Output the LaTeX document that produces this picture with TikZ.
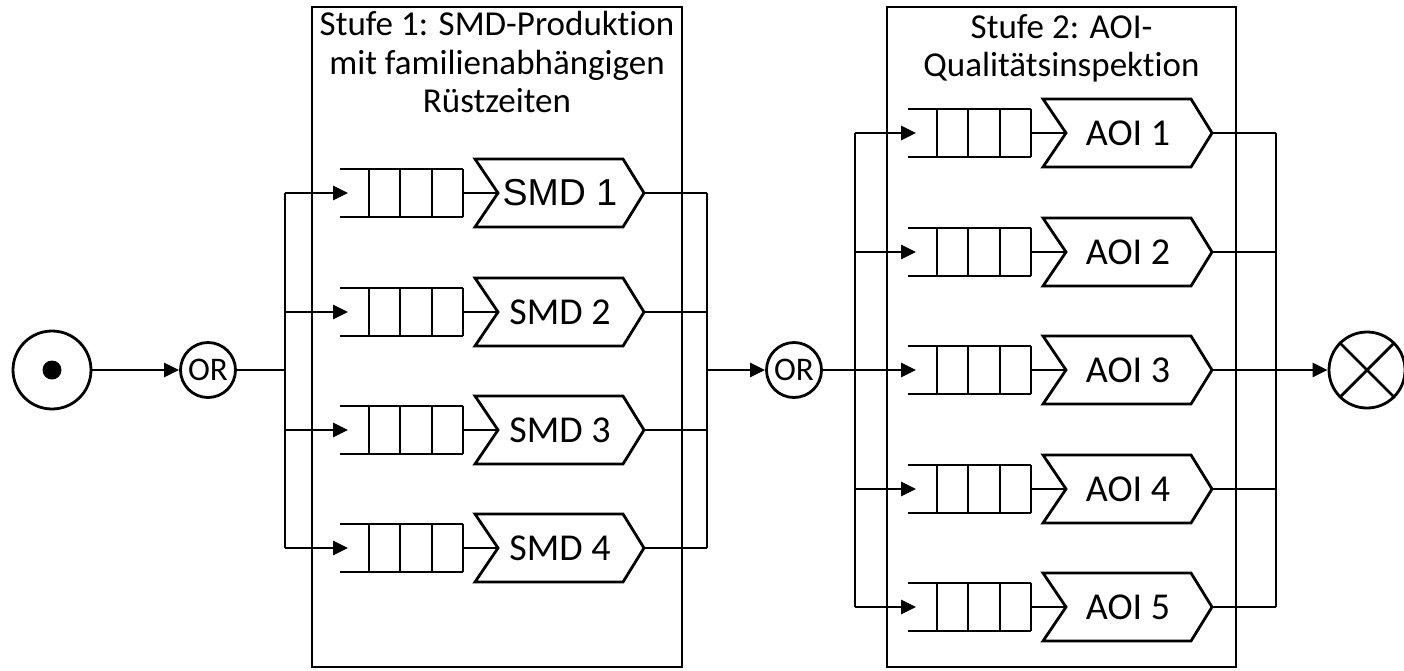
\documentclass[tikz,border=0pt]{standalone}
\usepackage{fontspec}
\setmainfont{Carlito}[Ligatures=NoCommon]
\newfontfamily\arialfont{Liberation Sans}
\usetikzlibrary{arrows.meta,calc}

\tikzset{
  line/.style={line width=2.8pt, line join=miter},
  arr/.style={line, -{Triangle[length=15pt,width=14pt]}},
  stagebox/.style={line, draw, fill=none, inner sep=0pt},
  title/.style={align=center, inner sep=0pt, anchor=north,
    font=\fontsize{35}{38.5}\selectfont},
  lbl/.style={inner sep=0pt, font=\fontsize{38}{40}\selectfont},
  gate/.style={line, draw, circle, inner sep=0pt, minimum size=55pt,
    font=\fontsize{33}{34}\selectfont},
}

% queue (four slots, open on the left) followed by a server chevron
\newcommand\QStation[4]{% #1 name, #2 x of queue start, #3 y of row, #4 label
  \begin{scope}[shift={(#2,#3)}]
    \draw[line] (0,-24) -- (123,-24) (0,24) -- (123,24);
    \foreach \d in {29,60,92,123} \draw[line] (\d,-24) -- (\d,24);
    \coordinate (#1-in) at (8,0);
    \coordinate (#1-q) at (123,0);
    \coordinate (#1-notch) at (158,0);
    \coordinate (#1-out) at (304,0);
    \draw[line] (135,-34) -- (283,-34) -- (304,0) -- (283,34) -- (135,34)
      -- (158,0) -- cycle;
    \node[lbl] (#1) at (220,0) {#4};
  \end{scope}
  \draw[line] (#1-q) -- (#1-notch);
}

\begin{document}
\begin{tikzpicture}[x=1pt, y=-1pt]
  \useasboundingbox (0,0) rectangle (1404,670);

  % stage containers
  \node[stagebox, minimum width=370pt, minimum height=660pt] (stage1) at (497,337) {};
  \node[stagebox, minimum width=349pt, minimum height=660pt] (stage2) at (1061.5,337) {};
  \node[title] (t1) at (497,11) {Stufe 1: SMD-Produktion\\mit familienabhängigen\\Rüstzeiten};
  \node[title] (t2) at (1061.5,14) {Stufe 2: AOI-\\Qualitätsinspektion};

  % source, gates, sink
  \node[line, draw, circle, minimum size=78pt, inner sep=0pt] (start) at (52,370) {};
  \fill (start.center) circle (9.5pt);
  \node[gate] (or1) at (208,370) {OR};
  \node[gate] (or2) at (794,370) {OR};
  \node[line, draw, circle, minimum size=76pt, inner sep=0pt] (sink) at (1367,370) {};
  \draw[line] (sink.north west) -- (sink.south east)
              (sink.north east) -- (sink.south west);

  % stage 1 stations
  \QStation{s1}{340}{193}{{\arialfont\fontsize{37.5}{40}\selectfont SMD 1}}
  \QStation{s2}{340}{312}{SMD 2}
  \QStation{s3}{340}{430}{SMD 3}
  \QStation{s4}{340}{548}{SMD 4}

  % stage 2 stations
  \QStation{a1}{908}{133}{AOI 1}
  \QStation{a2}{908}{252}{AOI 2}
  \QStation{a3}{908}{370}{AOI 3}
  \QStation{a4}{908}{489}{AOI 4}
  \QStation{a5}{908}{607}{AOI 5}

  % branch and collector rails
  \coordinate (b1) at (285,370);
  \coordinate (c1) at (707,370);
  \coordinate (b2) at (855,370);
  \coordinate (c2) at (1276,370);

  \draw[arr] (start) -- (or1);
  \draw[line] (or1) -- (b1);
  \draw[line] (b1 |- s1-in) -- (b1 |- s4-in);
  \foreach \s in {s1,s2,s3,s4} {
    \draw[arr] (b1 |- \s-in) -- (\s-in);
    \draw[line] (\s-out) -- (c1 |- \s-out);
  }
  \draw[line] (c1 |- s1-out) -- (c1 |- s4-out);
  \draw[arr] (c1) -- (or2);

  \draw[line] (or2) -- (b2);
  \draw[line] (b2 |- a1-in) -- (b2 |- a5-in);
  \foreach \s in {a1,a2,a3,a4,a5} {
    \draw[arr] (b2 |- \s-in) -- (\s-in);
    \draw[line] (\s-out) -- (c2 |- \s-out);
  }
  \draw[line] (c2 |- a1-out) -- (c2 |- a5-out);
  \draw[arr] (c2) -- (sink);
\end{tikzpicture}
\end{document}
